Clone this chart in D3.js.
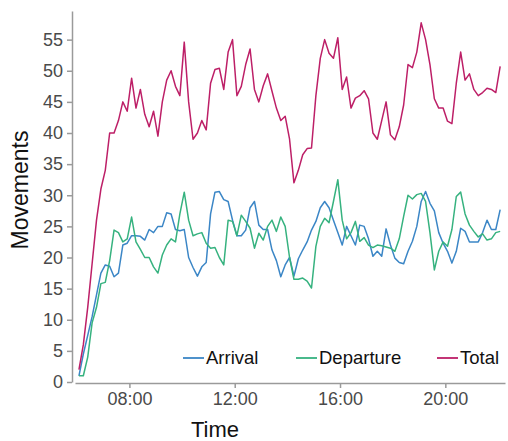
<!DOCTYPE html>
<html>
<head>
<meta charset="utf-8">
<script src="https://cdn.jsdelivr.net/npm/d3@7"></script>
<style>
  body { margin: 0; background: #fff; }
  svg { font-family: "Liberation Sans", Arial, sans-serif; }
  .axis path, .axis line { stroke: #9a9a9a; stroke-width: 1.5; }
  .axis text { fill: #4a4a4a; font-size: 18px; }
</style>
</head>
<body>
<script>
// samples every 10 minutes, first one at 06:05
var startTime = "06:05";
var stepMinutes = 10;

var arrival = [
  1, 4.5, 7.5, 10.5, 14, 17.5, 18.8, 18.6, 16.9, 17.5,
  22, 22.3, 23.5, 23.5, 23.4, 22.8, 24.5, 24, 25, 25,
  27.2, 27, 24.5, 24.3, 24.5, 20, 18.4, 17, 18.5, 19.2,
  27, 30.5, 30.6, 29.3, 29, 26, 23.5, 23.5, 24.4, 28,
  29, 25.2, 24.5, 24.5, 21.2, 19.5, 16.9, 18.8, 20, 17,
  19.8, 21.2, 22.5, 24.4, 25.8, 28, 29, 28, 26, 24,
  22, 25, 23.5, 22, 25.2, 25, 23, 20.2, 21, 20.2,
  24.6, 22, 19.9, 19.2, 19, 21, 22.6, 25, 29, 30.6,
  28.7, 27.5, 24, 22.3, 21, 19.1, 21, 24.7, 24.2, 22.5,
  22.5, 22.5, 24, 26, 24.5, 24.5, 27.7
];

var departure = [
  1, 1, 4, 9.5, 12, 15.8, 16, 19.5, 24.4, 24,
  22.5, 23, 26.5, 22.5, 21.3, 20, 20, 18.5, 17.5, 20.4,
  22, 23, 22.5, 27, 30.5, 26, 23.5, 23.8, 24, 22.3,
  21.5, 21.6, 20, 18.8, 26, 25.8, 23.5, 26.8, 25.8, 24.7,
  21.5, 23.9, 22.8, 25, 26, 24.2, 26.5, 25, 20, 16.5,
  16.5, 16.7, 16.2, 15.1, 21.8, 25, 26.3, 25.6, 29, 32.5,
  26, 23, 24, 25.8, 22.6, 23.2, 22, 21.6, 22, 21.9,
  21.7, 21.5, 21, 23, 26.6, 30, 29.4, 30.1, 30.3, 29,
  24, 18, 21, 22.5, 21.8, 24.5, 29.8, 30.5, 27, 25.2,
  24.2, 23.3, 23.8, 22.8, 23, 24, 24.2
];

var total = [
  2, 6, 12, 19, 26, 31, 34, 40, 40, 42,
  45, 43.5, 48.8, 44, 47, 43, 41, 43.5, 39.5, 45,
  48.5, 50, 47.5, 46, 54.6, 45, 39, 40, 42, 40.5,
  48, 50.2, 50.4, 47, 53, 55, 46, 47.5, 51, 53.5,
  47, 45, 47.6, 49.5, 46.7, 44, 42, 42.7, 39, 32,
  34, 36.5, 37.5, 37.6, 46, 52, 55, 52.8, 52, 55.3,
  47, 49, 44, 45.6, 46, 46.8, 45.5, 40, 39, 42,
  45, 39.7, 38.9, 41, 44.5, 51, 50.5, 53, 57.7, 55,
  51, 45.5, 44, 44, 41.9, 41.5, 48, 53, 48.5, 49.5,
  47, 46, 46.5, 47.2, 47, 46.5, 50.7
];

var seriesNames = ["Arrival", "Departure", "Total"];
var seriesColors = ["#3b86c6", "#36b27f", "#bd1f67"];
var yTicks = [0, 5, 10, 15, 20, 25, 30, 35, 40, 45, 50, 55];
var xTickHours = ["08:00", "12:00", "16:00", "20:00"];

var w = 508, h = 441;
var parseTime = d3.timeParse("%H:%M");
var t0 = parseTime(startTime);

// time of each sample
var times = arrival.map(function(d, i){
    return d3.timeMinute.offset(t0, i * stepMinutes);
});

var series = [arrival, departure, total];

// scales
var xScale = d3.scaleTime()
    .domain([parseTime("05:56"), parseTime("22:16")])
    .range([75, 505]);

var yScale = d3.scaleLinear()
    .domain([0, 59.6])
    .range([382, 11]);

var svg = d3.select("body").append("svg")
    .attr("width", w)
    .attr("height", h);

// axes
var xAxis = d3.axisBottom(xScale)
    .tickValues(xTickHours.map(parseTime))
    .tickFormat(d3.timeFormat("%H:%M"))
    .tickSize(5)
    .tickSizeOuter(0)
    .tickPadding(4);

var yAxis = d3.axisLeft(yScale)
    .tickValues(yTicks)
    .tickSize(5)
    .tickSizeOuter(0)
    .tickPadding(4);

svg.append("g")
    .attr("class", "axis")
    .attr("transform", "translate(0,383)")
    .call(xAxis);

svg.append("g")
    .attr("class", "axis")
    .attr("transform", "translate(72,0)")
    .call(yAxis);

// axis titles
svg.append("text")
    .attr("x", 215)
    .attr("y", 437)
    .attr("text-anchor", "middle")
    .attr("font-size", 22)
    .attr("fill", "#111")
    .text("Time");

svg.append("text")
    .attr("transform", "translate(28,190) rotate(-90)")
    .attr("text-anchor", "middle")
    .attr("font-size", 23)
    .attr("fill", "#111")
    .text("Movements");

// lines
var line = d3.line()
    .x(function(d, i){ return xScale(times[i]); })
    .y(function(d){ return yScale(d); });

svg.selectAll("path.series")
    .data(series)
    .enter()
    .append("path")
    .attr("class", "series")
    .attr("d", line)
    .attr("fill", "none")
    .attr("stroke", function(d, i){ return seriesColors[i]; })
    .attr("stroke-width", 1.5)
    .attr("stroke-linejoin", "round");

// legend
var legendX = [183, 296, 437];

var legend = svg.selectAll("g.legend")
    .data(seriesNames)
    .enter()
    .append("g")
    .attr("class", "legend")
    .attr("transform", function(d, i){ return "translate(" + legendX[i] + ",358)"; });

legend.append("line")
    .attr("x1", 0)
    .attr("x2", 21)
    .attr("stroke", function(d, i){ return seriesColors[i]; })
    .attr("stroke-width", 1.8);

legend.append("text")
    .attr("x", 23)
    .attr("dy", "0.35em")
    .attr("font-size", 18.5)
    .attr("fill", "#111")
    .text(function(d){ return d; });
</script>
</body>
</html>
